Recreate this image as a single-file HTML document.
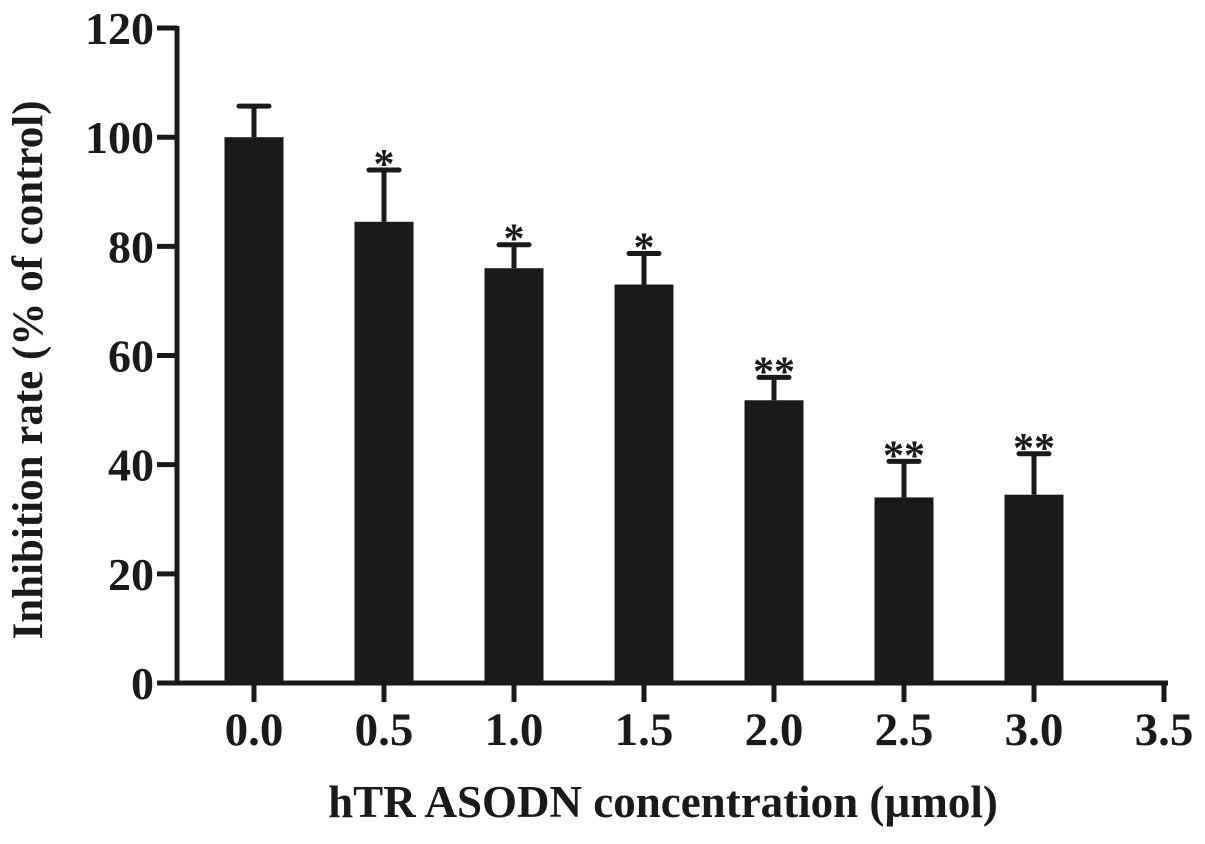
<!DOCTYPE html>
<html><head><meta charset="utf-8"><style>
body{margin:0;background:#fff;}
svg text{font-family:"Liberation Serif",serif;font-weight:bold;fill:#1a1a1a;}
</style></head><body>
<svg width="1205" height="839" viewBox="0 0 1205 839">
<g id="g"></g>
<text x="32" y="370" font-size="43" text-anchor="middle" dominant-baseline="middle" transform="rotate(-90 32 370)">Inhibition rate (% of control)</text>
<text x="663" y="817" font-size="45" text-anchor="middle">hTR ASODN concentration (µmol)</text>
</svg>
<script>
const categories=["0.0","0.5","1.0","1.5","2.0","2.5","3.0"];
const values=[100,84.5,76,73,51.8,34,34.5];
const errors=[5.7,9.5,4.3,5.7,4.2,6.6,7.5];
const stars=["","*","*","*","**","**","**"];
const xTicks=["0.0","0.5","1.0","1.5","2.0","2.5","3.0","3.5"];
const yTicks=[0,20,40,60,80,100,120];
const NS="http://www.w3.org/2000/svg";
const g=document.getElementById('g');
const y=v=>683-v*5.458;
const x=i=>254+i*130;
function el(t,a){const e=document.createElementNS(NS,t);for(const k in a)e.setAttribute(k,a[k]);g.appendChild(e);return e;}
let ax=el('line',{x1:177,y1:26,x2:177,y2:685,stroke:'#1a1a1a','stroke-width':5});


let bx=el('line',{x1:157,y1:683,x2:1168,y2:683,stroke:'#1a1a1a','stroke-width':5});


yTicks.forEach(v=>{
 let t=el('line',{x1:157,y1:y(v),x2:177,y2:y(v),stroke:'#1a1a1a','stroke-width':5});
 
 
 let l=el('text',{x:154,y:y(v)+16,'font-size':46,'text-anchor':'end'});l.textContent=v;
 
 
});
xTicks.forEach((s,i)=>{
 let t=el('line',{x1:x(i),y1:683,x2:x(i),y2:702,stroke:'#1a1a1a','stroke-width':5});
 
 
 let l=el('text',{x:x(i),y:745,'font-size':47,'text-anchor':'middle'});l.textContent=s;
 
 
});
values.forEach((v,i)=>{
 const cx=x(i),top=y(v),et=y(v+errors[i]);
 let e=el('line',{x1:cx,y1:et,x2:cx,y2:top,stroke:'#1a1a1a','stroke-width':5});
 
 
 let c=el('line',{x1:cx-15,y1:et,x2:cx+15,y2:et,stroke:'#1a1a1a','stroke-width':5,'stroke-linecap':'round'});
 
 
 let r=el('rect',{x:cx-29.5,y:top,width:59,height:683-top,fill:'#1a1a1a'});
 
 
 if(stars[i]){let s=el('text',{x:cx,y:et+8,'font-size':42,'text-anchor':'middle'});s.textContent=stars[i];
 
 }
});
</script>
</body></html>
